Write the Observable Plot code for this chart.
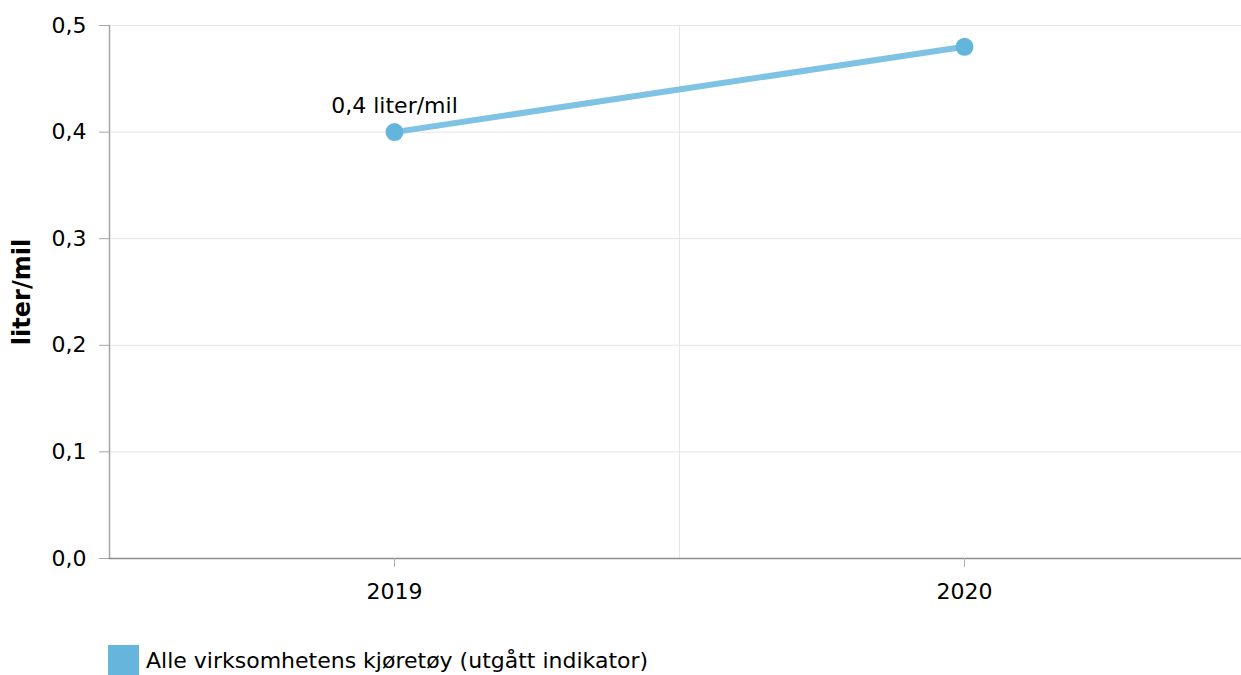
<!DOCTYPE html>
<html>
<head>
<meta charset="utf-8">
<script src="https://cdn.jsdelivr.net/npm/d3@7"></script>
<script src="https://cdn.jsdelivr.net/npm/@observablehq/plot@0.6"></script>
<style>
  html, body { margin: 0; padding: 0; background: #fff; }
  body { width: 1241px; height: 675px; overflow: hidden; font-family: 'DejaVu Sans', Verdana, sans-serif; }
  #chart svg { display: block; }
  .legend { position: absolute; left: 108px; top: 645px; display: flex; align-items: center; font-size: 22px; color: #000; }
  .legend .sw { width: 31px; height: 30px; background: #66b5dc; margin-right: 7px; }
</style>
</head>
<body>
<div id="chart"></div>
<div class="legend" id="legend"></div>
<script>
const years = [2019, 2020];
const values = [0.4, 0.48];
const pointLabels = ["0,4 liter/mil", ""];
const yTicks = [0, 0.1, 0.2, 0.3, 0.4, 0.5];
const seriesName = "Alle virksomhetens kjøretøy (utgått indikator)";
const yLabel = "liter/mil";

const data = years.map((year, i) => ({year, value: values[i], label: pointLabels[i]}));
const fmt = d => d.toFixed(1).replace(".", ",");

const chart = Plot.plot({
  width: 1241,
  height: 620,
  marginTop: 25,
  marginBottom: 62,
  marginLeft: 109,
  marginRight: 0,
  style: {fontFamily: "'DejaVu Sans', Verdana, sans-serif", fontSize: "22px", color: "#000", background: "#fff"},
  x: {domain: [years[0] - 0.5, years[years.length - 1] + 0.5], range: [109, 1249]},
  y: {domain: [0, 0.5]},
  marks: [
    Plot.ruleY(yTicks.slice(1), {stroke: "#e6e6e6", strokeWidth: 1}),
    Plot.ruleX([years[0] + 0.5], {stroke: "#e6e6e6", strokeWidth: 1}),
    Plot.ruleX([years[0] - 0.5], {stroke: "#a6a6a6", strokeWidth: 1.5}),
    Plot.ruleY([0], {stroke: "#8c8c8c", strokeWidth: 1.5}),
    Plot.axisY({ticks: yTicks, tickSize: 10, tickPadding: 13, tickFormat: fmt, label: null, stroke: "#a6a6a6", fontSize: 22}),
    Plot.axisX({ticks: years, tickSize: 9, tickPadding: 16, tickFormat: d => String(d), label: null, stroke: "#b0b0b0", fontSize: 22}),
    Plot.text([yLabel], {frameAnchor: "left", dx: -87, rotate: -90, text: d => d, textAnchor: "middle", fontWeight: "bold", fontSize: 24, fill: "#000"}),
    Plot.line(data, {x: "year", y: "value", stroke: "#7fc3e4", strokeWidth: 6}),
    Plot.dot(data, {x: "year", y: "value", r: 9, fill: "#64b5dc", stroke: "none"}),
    Plot.text(data, {x: "year", y: "value", text: "label", dy: -19, lineAnchor: "bottom", fontSize: 22, fill: "#000"})
  ]
});
document.getElementById("chart").append(chart);

const legend = document.getElementById("legend");
const sw = document.createElement("div");
sw.className = "sw";
const lbl = document.createElement("span");
lbl.textContent = seriesName;
legend.append(sw, lbl);
</script>
</body>
</html>
